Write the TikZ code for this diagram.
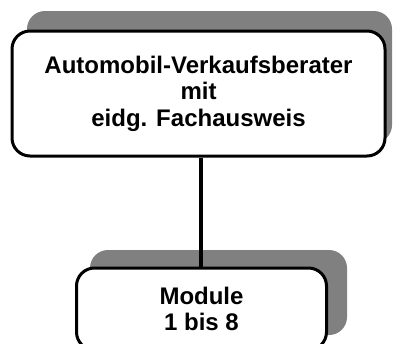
\documentclass[tikz,border=0pt]{standalone}
\usepackage{fontspec}
\setmainfont{Liberation Sans}

\begin{document}
\begin{tikzpicture}[x=1pt,y=-1pt,
    box/.style={draw, line width=3pt, rounded corners=18pt, fill=white,
      align=center, inner sep=0pt,
      font=\bfseries\fontsize{24}{26.5}\selectfont},
    backshade/.style={fill=gray, rounded corners=18pt}]
  \useasboundingbox (0,0) rectangle (393,343);
  \clip (0,0) rectangle (393,343);
  % shadows behind the boxes
  \fill[backshade] (27,11) rectangle (392,143);
  \fill[backshade] (90,250) rectangle (347,335);
  % boxes
  \node[box, minimum width=373pt, minimum height=125pt] (diplom) at (198.5,93.5)
    {Automobil-Verkaufsberater\\mit\\eidg. Fachausweis};
  \node[box, minimum width=250pt, minimum height=82pt] (module) at (201.5,309)
    {Module\\1 bis 8};
  \draw[line width=4pt] (diplom.south -| 200.5,0) -- (module.north -| 200.5,0);
\end{tikzpicture}
\end{document}
